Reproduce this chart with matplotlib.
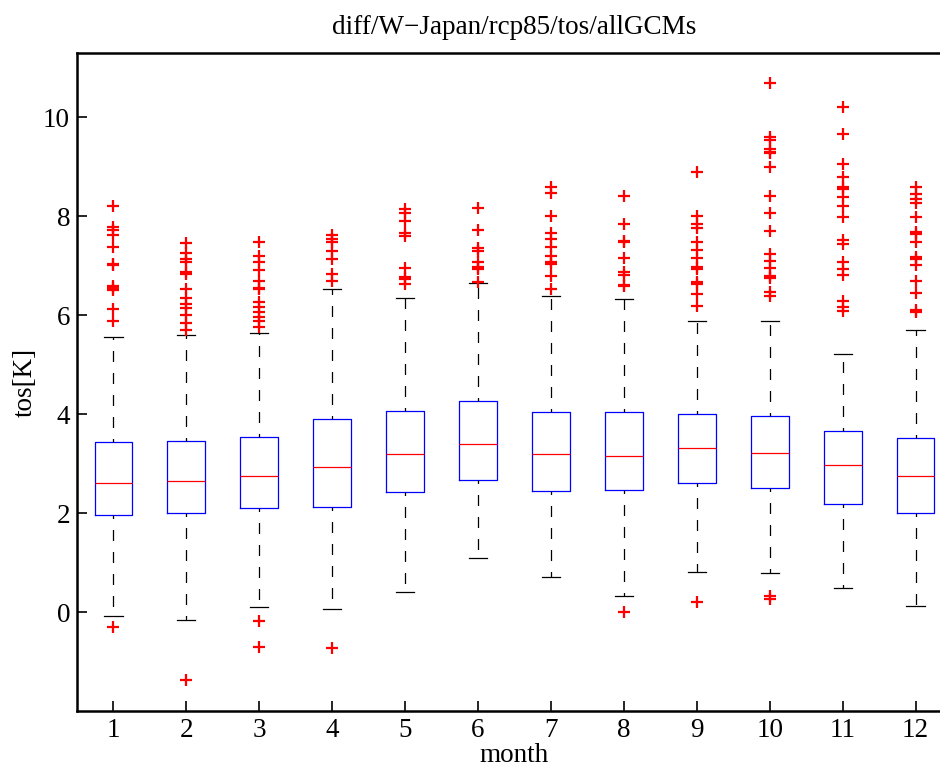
import matplotlib
matplotlib.use("Agg")
import matplotlib.pyplot as plt

months = [1, 2, 3, 4, 5, 6, 7, 8, 9, 10, 11, 12]
q1 = [1.96, 2.00, 2.10, 2.12, 2.43, 2.67, 2.44, 2.46, 2.61, 2.51, 2.18, 2.00]
med = [2.61, 2.65, 2.75, 2.93, 3.19, 3.39, 3.19, 3.15, 3.31, 3.21, 2.97, 2.75]
q3 = [3.43, 3.45, 3.53, 3.90, 4.06, 4.26, 4.04, 4.04, 4.00, 3.96, 3.66, 3.52]
whislo = [-0.07, -0.16, 0.10, 0.06, 0.40, 1.09, 0.71, 0.32, 0.81, 0.79, 0.48, 0.13]
whishi = [5.55, 5.60, 5.64, 6.52, 6.34, 6.65, 6.38, 6.32, 5.88, 5.88, 5.21, 5.70]
outliers = [
    [8.20, 7.78, 7.72, 7.62, 7.37, 7.03, 7.01, 6.59, 6.56, 6.50, 6.12, 5.88, -0.30],
    [7.45, 7.25, 7.14, 7.07, 6.87, 6.84, 6.53, 6.34, 6.22, 6.14, 6.00, 5.84, 5.70, -1.37],
    [7.48, 7.19, 7.07, 6.91, 6.69, 6.56, 6.52, 6.26, 6.16, 6.06, 5.96, 5.88, 5.76, -0.19, -0.71],
    [7.62, 7.55, 7.47, 7.29, 7.13, 6.83, 6.69, -0.72],
    [8.14, 8.06, 7.90, 7.66, 7.60, 6.95, 6.77, 6.73, 6.64],
    [8.16, 7.72, 7.35, 7.30, 7.07, 6.97, 6.94, 6.67],
    [8.59, 8.48, 8.00, 7.66, 7.54, 7.37, 7.20, 7.07, 7.04, 6.79, 6.53],
    [8.40, 7.84, 7.50, 7.47, 7.15, 6.87, 6.81, 6.61, 6.59, 0.00],
    [8.90, 8.00, 7.84, 7.76, 7.47, 7.31, 7.15, 6.97, 6.94, 6.67, 6.63, 6.42, 6.18, 0.20],
    [10.70, 9.60, 9.54, 9.35, 9.29, 9.27, 8.99, 8.40, 8.06, 7.70, 7.23, 7.09, 6.95, 6.79, 6.76, 6.46, 6.38, 0.32, 0.26],
    [10.20, 9.66, 9.05, 8.79, 8.59, 8.55, 8.38, 8.20, 7.98, 7.52, 7.43, 7.07, 6.93, 6.81, 6.28, 6.16, 6.08],
    [8.59, 8.44, 8.34, 8.26, 7.98, 7.68, 7.65, 7.47, 7.17, 7.13, 7.01, 6.69, 6.44, 6.10, 6.07],
]
yticks = [0, 2, 4, 6, 8, 10]
title = "diff/W\u2212Japan/rcp85/tos/allGCMs"
xlabel = "month"
ylabel = "tos[K]"

plt.rcParams['font.family'] = ['Liberation Serif', 'DejaVu Serif']
FS = 19.5
plt.rcParams['font.size'] = FS

fig = plt.figure(figsize=(9.4, 7.67), dpi=100)
ax = fig.add_axes([77 / 940, (767 - 711) / 767, 875 / 940, (711 - 53) / 767])

stats = []
for i in range(len(months)):
    stats.append(dict(med=med[i], q1=q1[i], q3=q3[i], whislo=whislo[i],
                      whishi=whishi[i], fliers=outliers[i], label=str(months[i])))

ax.bxp(stats, positions=months, widths=0.52, capwidths=0.25,
       boxprops=dict(color='blue', lw=0.9),
       medianprops=dict(color='red', lw=0.9),
       whiskerprops=dict(color='black', lw=0.9, linestyle=(6, (8.8, 8.8))),
       capprops=dict(color='black', lw=0.9),
       flierprops=dict(marker='+', markeredgecolor='red', markersize=9,
                       markeredgewidth=1.6, linestyle='none'))

ax.set_xlim(0.5, 12.5)
ax.set_ylim(-2.0, 11.3)
ax.set_yticks(yticks)
ax.set_xticks(months)
ax.set_xticklabels([str(m) for m in months])
ax.tick_params(direction='in', length=7, width=1.2, labelsize=FS)
ax.tick_params(axis='x', pad=5)
ax.tick_params(axis='y', pad=5)
for s in ax.spines.values():
    s.set_linewidth(1.8)
ax.set_xlabel(xlabel, fontsize=FS, labelpad=0)
ax.set_ylabel(ylabel, fontsize=FS, labelpad=3.5)
fig.text(514 / 940, 1 - 28 / 767, title, ha='center', va='center', fontsize=FS)

fig.savefig("out.png", dpi=100)
